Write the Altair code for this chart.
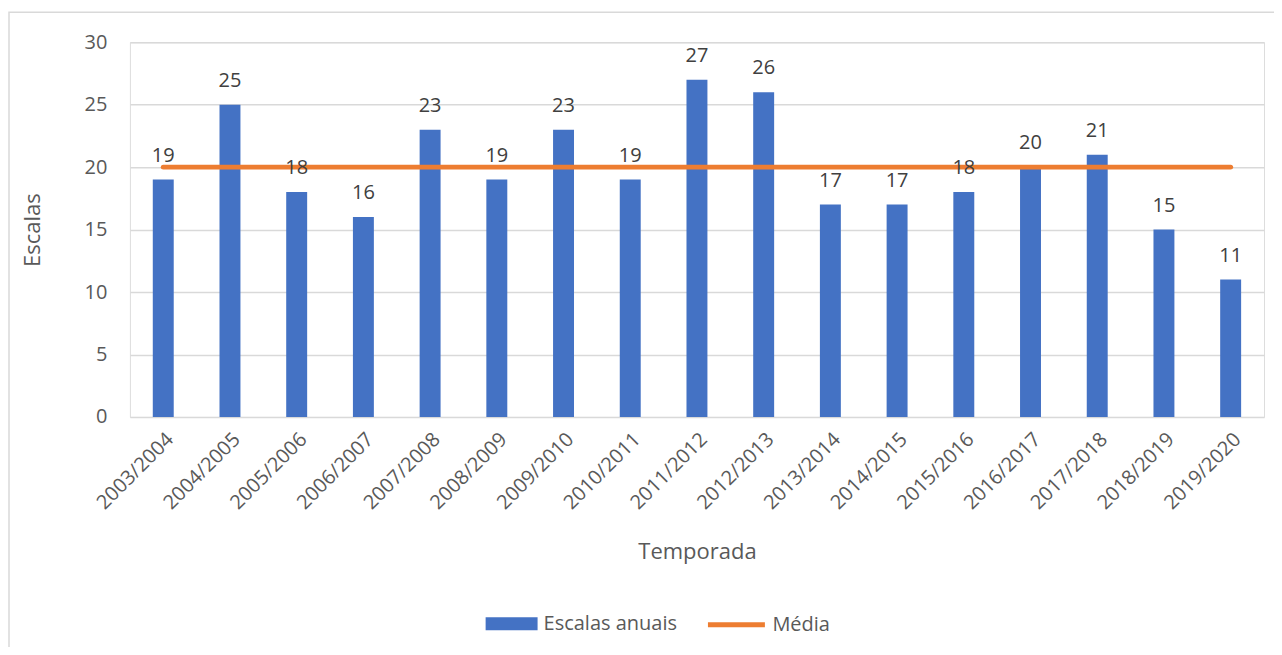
import altair as alt
import pandas as pd

temporadas = ["2003/2004", "2004/2005", "2005/2006", "2006/2007", "2007/2008",
              "2008/2009", "2009/2010", "2010/2011", "2011/2012", "2012/2013",
              "2013/2014", "2014/2015", "2015/2016", "2016/2017", "2017/2018",
              "2018/2019", "2019/2020"]
escalas = [19, 25, 18, 16, 23, 19, 23, 19, 27, 26, 17, 17, 18, 20, 21, 15, 11]
media = [20, 20, 20, 20, 20, 20, 20, 20, 20, 20, 20, 20, 20, 20, 20, 20, 20]
y_ticks = [0, 5, 10, 15, 20, 25, 30]

df = pd.DataFrame({
    "Temporada": temporadas,
    "Escalas": escalas,
    "Media": media,
    "serie_b": ["Escalas anuais"] * len(temporadas),
    "serie_l": ["Média"] * len(temporadas),
})

FONT = "Open Sans"
GREY = "#595959"

x_enc = alt.X(
    "Temporada:N", sort=temporadas,
    scale=alt.Scale(paddingInner=0.686, paddingOuter=0.343),
    axis=alt.Axis(title="Temporada", labelAngle=-45, labelFontSize=20, labelColor=GREY,
                  labelFont=FONT, labelPadding=12, domain=False, ticks=False, tickSize=0,
                  grid=False, titleFontSize=22, titleColor=GREY, titleFont=FONT,
                  titleFontWeight="normal", titleY=135, titleBaseline="middle"),
)

y_axis = alt.Axis(title="Escalas", values=y_ticks, labelFontSize=20, labelColor=GREY,
                  labelFont=FONT, labelPadding=23, domain=False, ticks=False, tickSize=0,
                  grid=True, gridColor="#d9d9d9", gridWidth=1.5, titleFontSize=22,
                  titleColor=GREY, titleFont=FONT, titleFontWeight="normal",
                  titleX=-97, titleBaseline="middle")
y_scale = alt.Scale(domain=[0, 30])

frame = alt.Chart(pd.DataFrame({"a": [0]})).mark_rect(
    fill="transparent", stroke="#d9d9d9", strokeWidth=1.5
).encode(x=alt.value(-121), x2=alt.value(1400), y=alt.value(-30), y2=alt.value(800))

bars = alt.Chart(df).mark_bar().encode(
    x=x_enc,
    y=alt.Y("Escalas:Q", scale=y_scale, axis=y_axis),
    fill=alt.Fill("serie_b:N",
                  scale=alt.Scale(domain=["Escalas anuais"], range=["#4472C4"]),
                  legend=alt.Legend(title=None, orient="none", legendX=355, legendY=555,
                                    symbolType="M-1,-0.25H1V0.25H-1Z", symbolSize=2704,
                                    labelOffset=5, padding=0, labelFont=FONT,
                                    labelFontSize=20, labelColor=GREY, labelLimit=300)),
)

line = alt.Chart(df).mark_line(strokeWidth=5, strokeCap="round").encode(
    x=x_enc,
    y=alt.Y("Media:Q", scale=y_scale, axis=y_axis),
    stroke=alt.Stroke("serie_l:N",
                      scale=alt.Scale(domain=["Média"], range=["#ED7D31"]),
                      legend=alt.Legend(title=None, orient="none", legendX=576, legendY=552,
                                        symbolType="stroke", symbolSize=3249,
                                        symbolStrokeWidth=5, labelOffset=5, padding=0,
                                        labelFont=FONT, labelFontSize=20, labelColor=GREY,
                                        labelLimit=300)),
)

labels = alt.Chart(df).mark_text(
    dy=-18, baseline="alphabetic", fontSize=20, font=FONT, color="#404040"
).encode(
    x=x_enc,
    y=alt.Y("Escalas:Q", scale=y_scale, axis=y_axis),
    text=alt.Text("Escalas:Q"),
)

chart = alt.layer(frame, bars, line, labels).properties(
    width=1135, height=375,
    padding={"left": 122, "top": 34, "right": 10, "bottom": 230},
    autosize=alt.AutoSizeParams(type="none"),
).configure_view(strokeWidth=0).configure(font=FONT)

chart.save("out.html", embed_options={"renderer": "svg", "actions": False})
